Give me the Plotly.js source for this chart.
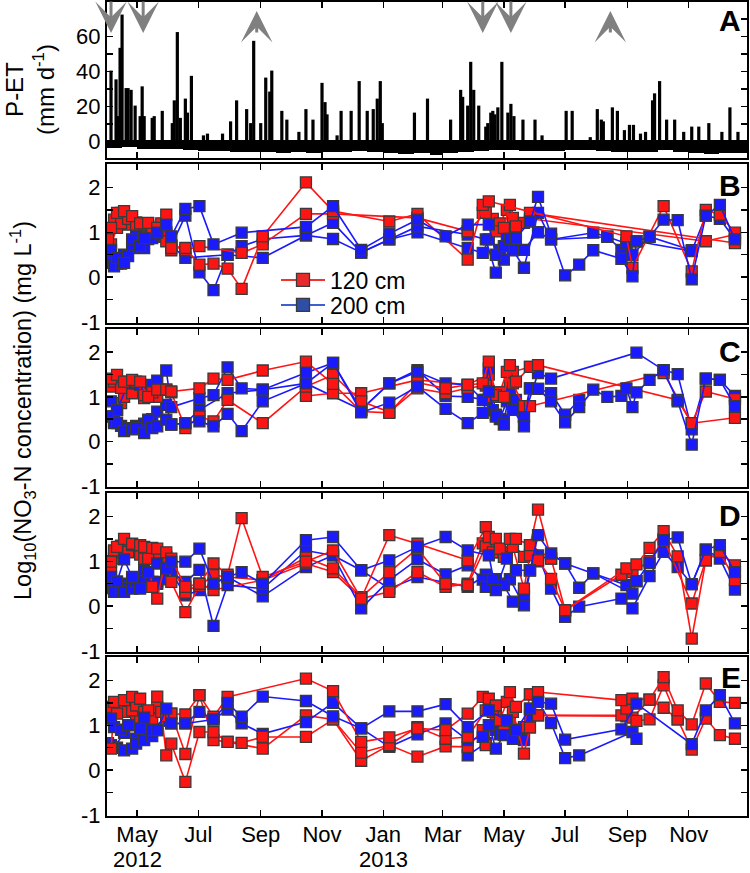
<!DOCTYPE html>
<html><head><meta charset="utf-8">
<script src="https://cdn.plot.ly/plotly-3.0.1.min.js"></script>
<style>html,body{margin:0;padding:0;background:#fff}</style>
</head><body><div id="chart" style="width:750px;height:873px"></div>
<script>
const _ = null;
// ---------- Panel A: P-ET ----------
const rainDates = ['2012-04-05','2012-04-10','2012-04-12','2012-04-14','2012-04-16','2012-04-20','2012-04-22','2012-04-25','2012-04-29','2012-05-04','2012-05-06','2012-05-08','2012-05-16','2012-05-18','2012-05-26','2012-06-05','2012-06-07','2012-06-10','2012-06-13','2012-06-18','2012-06-20','2012-06-24','2012-07-06','2012-07-10','2012-07-25','2012-08-02','2012-08-08','2012-08-18','2012-08-22','2012-08-25','2012-09-01','2012-09-06','2012-09-10','2012-09-12','2012-09-22','2012-09-27','2012-10-09','2012-10-16','2012-10-23','2012-11-01','2012-11-04','2012-11-06','2012-11-16','2012-11-20','2012-11-30','2012-12-08','2012-12-16','2012-12-22','2012-12-26','2012-12-29','2012-12-31','2013-02-01','2013-02-14','2013-03-09','2013-03-19','2013-03-21','2013-03-26','2013-03-29','2013-04-01','2013-04-06','2013-04-13','2013-04-15','2013-04-18','2013-04-20','2013-04-22','2013-04-25','2013-04-29','2013-05-05','2013-05-08','2013-05-11','2013-05-20','2013-06-01','2013-06-08','2013-07-02','2013-07-08','2013-07-26','2013-08-02','2013-08-06','2013-08-08','2013-08-17','2013-08-22','2013-08-29','2013-09-03','2013-09-07','2013-09-14','2013-09-19','2013-09-26','2013-09-28','2013-10-03','2013-10-10','2013-10-18','2013-10-27','2013-11-04','2013-11-11','2013-11-21','2013-12-04','2013-12-12','2013-12-20'];
const rainValues = [40,35,14,53,72,30,30,29,20,14,31,14,13,14,17,10,23,62,13,24,16,37,3,4,4,11,23,18,10,57,10,36,28,40,17,12,5,18,12,33,22,15,3,17,17,34,17,18,24,34,10,16,24,12,29,25,20,45,29,20,8,10,16,17,15,19,45,16,21,14,12,12,3,17,17,2,18,12,11,19,17,6,9,9,4,5,23,27,34,12,12,5,8,8,10,5,19,5];
// dry-day P-ET, half-month steps from Apr 2012 (1st half) to Dec 2013 (2nd half)
const dryPET = [-3.8,-3.0,-4.0,-4.0,-4.4,-4.8,-5.1,-5.1,-5.7,-5.7,-6.0,-6.3,-5.7,-6.7,-5.7,-5.7,-5.1,-5.7,
                -6.3,-7.0,-6.7,-7.6,-6.3,-5.7,-5.1,-4.8,-4.8,-5.1,-5.1,-5.1,-4.8,-4.8,-5.1,-5.7,-5.7,-5.7,-4.8,-5.7,-6.3,-7.0,-6.7,-6.3];
const arrowDates = ['2012-04-05','2012-05-07','2012-08-28','2013-04-10','2013-05-08','2013-08-15'];
const arrowDirs = ['down','down','up','down','down','up'];

// ---------- x ticks ----------
const monthTicks = ['2012-05-01','2012-07-01','2012-09-01','2012-11-01','2013-01-01','2013-03-01','2013-05-01','2013-07-01','2013-09-01','2013-11-01'];
const monthLabels = ['May','Jul','Sep','Nov','Jan','Mar','May','Jul','Sep','Nov'];
const yearLabels = ['2012','2013'];
const yearLabelDates = ['2012-05-01','2013-01-01'];
const seriesNames = ['120 cm','200 cm'];

// ---------- sampling dates ----------
const sampleDates = ['2012-04-02','2012-04-05','2012-04-08','2012-04-11','2012-04-15','2012-04-18','2012-04-22','2012-04-26','2012-04-30','2012-05-04','2012-05-08','2012-05-12','2012-05-16','2012-05-21','2012-05-25','2012-05-30','2012-06-04','2012-06-18','2012-07-02','2012-07-16','2012-07-30','2012-08-13','2012-09-03','2012-10-16','2012-11-12','2012-12-10','2013-01-07','2013-02-04','2013-03-04','2013-03-26','2013-04-10','2013-04-13','2013-04-16','2013-04-20','2013-04-23','2013-04-27','2013-05-01','2013-05-04','2013-05-07','2013-05-10','2013-05-13','2013-05-21','2013-05-27','2013-06-04','2013-06-17','2013-07-01','2013-07-15','2013-07-29','2013-08-12','2013-08-26','2013-08-31','2013-09-06','2013-09-10','2013-09-23','2013-10-07','2013-10-21','2013-11-04','2013-11-18','2013-12-02','2013-12-17'];

// ---------- Panel B ([sample index, log10 value]) ----------
const B_red1 = [[1,1.1],[3,1.43],[5,1.47],[7,1.36],[9,1.2],[11,1.21],[13,1.1],[15,1.39],[16,0.65],[17,0.65],[18,0.28],[19,0.3],[20,0.19],[21,-0.26],[22,0.91],[23,2.11],[24,1.47],[26,1.24],[27,1.41],[29,0.39],[30,1.61],[32,1.69],[50,0.91],[51,0.21],[54,1.58],[56,0.13],[57,1.5],[58,1.39],[59,0.99]];
const B_red2 = [[0,0.84],[2,1.28],[4,1.2],[6,1.3],[8,1.17],[10,1.17],[12,1.1],[14,1.2],[15,0.8],[17,0.6],[18,0.69],[21,0.54],[22,0.73],[23,1.41],[24,1.41],[27,1.32],[29,1.02],[31,1.43],[34,1.02],[36,1.1],[38,1.61],[40,1.13],[42,1.43],[59,0.76]];
const B_red3 = [[1,0.73],[3,1.1],[4,1.43],[6,1.17],[8,1.22],[9,1.1],[11,1.15],[12,1.05],[13,0.91],[15,1.0],[16,0.6],[17,_],[30,1.43],[33,1.3],[35,1.2],[37,1.5],[39,1.32],[41,1.21],[42,1.3],[57,0.8],[59,0.95]];
const B_blue1 = [[1,0.61],[3,0.43],[5,0.32],[7,0.84],[9,0.69],[10,0.87],[13,0.99],[15,1.17],[16,0.91],[17,1.52],[18,1.58],[19,0.73],[21,0.99],[23,1.12],[24,1.58],[25,0.61],[26,0.97],[27,1.28],[28,0.91],[29,1.17],[32,1.17],[34,0.5],[36,0.69],[38,0.85],[40,0.87],[42,1.24],[43,1.79],[44,0.97],[45,0.04],[46,0.28],[47,0.6],[49,0.41],[51,0.02],[52,0.8],[53,0.9],[54,1.28],[55,1.27],[56,-0.05],[57,1.37],[58,1.61],[59,0.84]];
const B_blue2 = [[0,0.32],[2,0.24],[4,0.3],[6,0.47],[8,0.91],[10,0.65],[12,0.87],[14,0.95],[16,0.7],[17,1.37],[18,0.11],[19,-0.29],[20,0.5],[21,0.69],[22,0.85],[23,0.93],[24,1.21],[25,0.55],[26,0.84],[27,1.13],[29,0.95],[31,0.84],[34,0.1],[36,0.39],[37,0.91],[39,0.61],[41,0.21],[43,1.43],[44,0.84],[48,0.9],[50,0.75],[52,0.8],[56,0.58],[57,1.37],[58,1.3],[59,0.84]];
const B_blue3 = [[1,0.4],[3,0.3],[5,0.5],[7,0.65],[9,0.8],[11,0.85],[13,0.9],[15,0.95],[16,0.7],[17,0.43],[20,0.5],[22,0.43],[23,0.93],[24,0.85],[25,0.55],[26,0.84],[27,1.0],[29,0.65],[30,0.54],[32,0.84],[35,0.61],[37,0.7],[39,0.6],[41,0.61],[43,1.0],[44,0.84],[47,0.99],[48,0.9],[49,0.61],[50,0.75],[51,0.5],[53,0.9],[56,0.6]];

// ---------- Panel C ----------
const C_red1 = [[1,1.41],[3,1.49],[5,1.34],[7,1.38],[9,1.34],[11,1.0],[13,1.16],[15,1.16],[16,1.12],[18,1.19],[19,1.41],[20,1.38],[22,1.59],[23,1.79],[24,1.29],[25,0.67],[26,0.64],[27,1.32],[28,1.19],[29,1.27],[30,1.3],[32,1.79],[34,1.04],[36,1.0],[38,1.71],[40,1.34],[42,1.67],[43,1.71],[55,0.93],[56,0.41],[59,0.53]];
const C_red2 = [[1,1.23],[2,1.34],[4,1.2],[6,1.34],[8,1.34],[10,1.04],[12,1.1],[14,1.16],[16,1.1],[17,0.3],[18,0.56],[19,0.45],[20,0.93],[22,0.41],[23,1.23],[24,1.49],[25,0.9],[26,0.66],[27,1.19],[28,1.08],[29,1.2],[31,1.25],[33,1.0],[35,1.1],[37,1.56],[39,1.3],[41,0.79],[42,0.79],[54,1.53],[56,0.41],[57,1.12],[59,0.95]];
const C_red3 = [[3,0.71],[4,0.86],[5,1.0],[7,1.08],[10,0.97],[13,1.0],[15,1.16],[16,_],[23,1.02],[24,1.08],[25,1.08],[27,1.38],[29,1.27],[32,1.5],[34,1.1],[38,1.34],[39,1.56],[42,1.67]];
const C_blue1 = [[0,0.56],[2,0.41],[3,0.41],[5,0.23],[7,0.27],[8,0.3],[10,0.19],[11,0.49],[12,0.3],[13,0.34],[15,0.49],[16,0.38],[17,0.41],[18,0.45],[19,0.34],[20,0.62],[21,0.23],[22,0.9],[23,1.3],[24,1.76],[25,0.65],[26,0.87],[27,1.23],[28,0.73],[29,0.41],[30,0.64],[32,1.12],[34,0.56],[36,0.38],[39,0.71],[41,0.34],[42,1.19],[43,1.18],[44,0.9],[45,0.43],[46,0.77],[47,1.16],[48,1.0],[49,1.02],[50,1.19],[51,0.77],[52,1.1],[53,1.38],[54,1.6],[55,0.9],[56,-0.07],[57,1.41],[58,1.38],[59,0.79]];
const C_blue2 = [[1,0.9],[3,0.7],[6,1.3],[8,1.3],[9,1.27],[12,1.27],[13,1.36],[15,1.59],[16,0.77],[18,0.97],[19,1.04],[20,1.66],[21,1.19],[22,1.16],[23,1.54],[24,1.76],[25,0.71],[26,1.3],[27,1.56],[28,1.3],[29,1.27],[30,0.93],[32,1.64],[34,0.6],[36,0.49],[38,1.08],[40,0.93],[41,0.56],[43,1.53],[44,1.41],[52,1.99],[54,1.6],[55,1.51],[56,0.27],[57,1.41],[58,1.38],[59,1.02]];
const C_blue3 = [[1,0.56],[2,0.45],[4,0.35],[6,0.3],[8,0.35],[10,0.4],[12,0.5],[13,0.67],[15,0.82],[16,0.38],[17,0.41],[18,0.71],[20,1.08],[22,1.16],[23,1.3],[25,0.71],[26,1.3],[27,1.6],[28,1.02],[29,1.0],[31,0.93],[33,0.7],[35,0.5],[37,0.9],[39,0.75],[41,0.56],[42,1.19],[43,1.18],[44,1.08],[45,0.6],[46,0.93]];

// ---------- Panel D ----------
const D_red1 = [[1,0.99],[2,1.24],[3,1.32],[5,1.5],[7,1.39],[9,1.36],[10,1.32],[12,1.3],[13,1.28],[15,1.2],[16,1.06],[17,0.43],[18,0.5],[19,0.95],[20,0.7],[21,1.96],[22,0.65],[23,0.99],[24,1.24],[25,0.17],[26,1.58],[27,1.39],[29,1.02],[31,1.76],[32,1.54],[34,1.5],[35,1.28],[38,1.5],[40,1.5],[42,1.36],[43,2.15],[44,1.06],[45,-0.09],[50,0.84],[52,0.93],[53,1.3],[54,1.67],[55,1.11],[56,-0.72],[57,1.02],[58,1.21],[59,0.91]];
const D_red2 = [[1,0.8],[2,1.06],[4,1.2],[5,1.21],[6,1.21],[7,1.36],[8,1.36],[10,1.06],[11,1.06],[12,0.43],[13,0.17],[15,1.1],[16,0.54],[17,-0.13],[18,0.45],[19,0.69],[20,0.65],[22,0.58],[23,1.08],[24,0.84],[25,0.2],[26,0.76],[27,1.28],[28,0.5],[29,0.47],[31,1.33],[33,1.2],[36,1.1],[39,1.32],[41,0.39],[42,1.13],[43,1.02],[44,0.61],[45,-0.09],[49,0.7],[51,0.76],[53,1.0],[54,1.5],[56,0.06],[57,1.02],[58,1.21],[59,0.58]];
const D_red3 = [[0,1.0],[2,1.2],[4,1.35],[6,1.3],[8,1.2],[9,1.15],[11,1.2],[13,1.17],[15,1.0],[16,0.9],[17,0.3],[18,0.5],[19,0.36],[22,0.58],[23,0.95],[24,0.76],[25,0.17],[26,0.32],[27,0.76],[28,0.43],[29,0.5],[30,1.4],[32,1.4],[34,1.2],[37,1.2],[39,1.4],[41,1.1],[42,1.36],[44,1.06]];
const D_blue1 = [[1,0.65],[3,0.55],[5,1.04],[7,0.65],[9,0.39],[10,0.8],[11,0.76],[13,0.95],[15,0.84],[16,0.99],[17,0.99],[18,1.28],[19,0.5],[20,0.65],[21,0.76],[22,0.5],[23,1.47],[24,1.54],[25,0.8],[26,1.02],[27,1.32],[28,1.54],[29,1.24],[32,1.13],[34,0.36],[37,1.06],[40,0.8],[42,0.8],[43,1.58],[44,1.17],[45,0.95],[46,0.41],[47,0.73],[51,0.28],[52,0.56],[53,0.96],[54,1.47],[55,1.53],[56,0.49],[57,1.26],[58,1.36],[59,0.76]];
const D_blue2 = [[0,0.5],[2,0.32],[4,0.4],[5,0.32],[7,0.39],[8,0.54],[10,0.6],[12,0.54],[13,0.54],[15,0.6],[16,0.76],[17,0.54],[18,0.81],[19,-0.44],[20,0.47],[22,0.39],[23,1.24],[24,1.13],[25,-0.05],[26,0.58],[27,1.04],[28,0.71],[29,0.91],[30,0.59],[31,0.43],[33,0.6],[36,0.47],[39,0.1],[41,0.24],[42,0.8],[43,1.13],[44,0.39],[45,-0.24],[46,-0.01],[49,0.17],[51,-0.05],[53,0.67],[54,1.21],[55,0.87],[56,0.49],[57,1.26],[58,1.06],[59,0.37]];
const D_blue3 = [[1,0.4],[3,0.35],[5,0.5],[7,0.6],[9,0.5],[11,0.55],[13,0.5],[15,0.7],[16,0.76],[17,0.24],[18,0.36],[20,0.65],[22,0.22],[23,0.87],[24,1.13],[25,0.8],[26,0.39],[27,0.65],[29,0.43],[31,0.7],[34,0.6],[36,0.5],[38,0.6],[41,0.02],[42,0.8],[43,1.0],[44,1.17],[45,0.95],[47,0.73],[50,0.47],[52,0.56]];

// ---------- Panel E ----------
const E_red1 = [[1,1.41],[2,1.52],[3,1.26],[5,1.56],[7,1.63],[9,1.59],[11,1.33],[13,1.64],[15,1.2],[16,1.26],[17,1.24],[18,1.67],[19,1.19],[20,1.63],[23,2.04],[24,1.76],[25,0.63],[26,0.73],[27,0.93],[28,0.89],[29,1.26],[30,1.63],[32,1.59],[34,1.44],[38,1.74],[40,1.41],[42,1.69],[43,1.74],[49,1.56],[51,1.59],[53,1.57],[54,2.07],[55,1.33],[56,1.02],[57,1.93],[58,1.52],[59,1.5]];
const E_red2 = [[1,0.48],[2,1.33],[4,1.3],[5,1.3],[7,1.33],[8,1.44],[10,1.3],[12,1.15],[14,1.3],[15,0.33],[16,0.59],[17,-0.26],[18,0.85],[19,0.85],[20,0.63],[21,0.61],[22,0.74],[23,0.74],[24,1.13],[25,0.39],[26,0.56],[27,0.96],[28,0.7],[29,0.74],[31,1.33],[33,1.3],[35,1.11],[37,1.52],[39,1.3],[41,0.37],[42,0.95],[43,1.22],[49,1.22],[50,1.37],[52,1.1],[53,1.13],[54,1.89],[55,1.13],[56,0.46],[57,1.15],[58,0.78],[59,0.7]];
const E_red3 = [[0,1.2],[2,1.4],[4,1.45],[6,1.3],[8,1.2],[9,1.11],[11,1.2],[13,1.4],[15,1.2],[16,1.26],[17,0.36],[18,1.67],[19,0.67],[20,0.63],[22,0.48],[23,1.22],[24,1.13],[25,0.21],[26,0.56],[27,0.3],[28,0.53],[29,0.52],[30,0.89],[31,0.56],[34,1.22],[36,1.0],[38,1.1],[41,0.96],[42,1.69],[43,1.22],[50,1.2],[51,1.17],[53,1.57],[54,1.39],[55,1.13]];
const E_blue1 = [[1,1.15],[2,0.96],[4,0.9],[6,1.0],[9,0.93],[10,1.17],[12,0.89],[13,0.89],[15,1.37],[16,1.04],[17,1.04],[18,1.3],[19,1.13],[20,1.5],[21,1.19],[22,1.64],[23,1.54],[24,1.2],[25,0.93],[26,1.31],[27,1.31],[28,1.47],[29,0.96],[32,1.33],[37,1.11],[40,0.89],[42,1.37],[43,1.52],[44,1.48],[45,0.68],[49,0.91],[52,1.48],[56,0.58],[57,1.33],[58,1.67],[59,1.04]];
const E_blue2 = [[1,0.56],[3,0.5],[5,0.44],[7,0.48],[8,0.59],[10,0.67],[11,0.9],[12,0.76],[13,0.89],[15,1.1],[16,1.04],[17,1.04],[19,1.13],[20,1.35],[21,1.04],[22,0.81],[23,1.07],[24,1.5],[25,0.93],[26,0.52],[27,0.8],[28,1.04],[29,0.67],[30,0.74],[32,1.0],[34,0.48],[36,0.78],[39,0.7],[41,0.67],[42,1.37],[43,1.52],[44,1.05],[45,0.27],[46,0.33],[51,0.85],[52,0.7]];
const E_blue3 = [[0,0.6],[2,0.5],[5,0.83],[8,0.7],[10,0.8],[12,0.9],[15,1.2],[16,_],[29,0.33],[31,0.6],[33,0.9],[35,0.8],[38,0.9],[41,0.7],[42,1.2]];

// ================= build =================
const RED = '#ff1414', BLUE = '#1a1aff', EDGE = '#3a3a3a';
const FONT = 'Liberation Sans, Arial, sans-serif';
const traces = [];

const etX = [], etW = [];
for (let k = 0; k < dryPET.length; k++) {
  const mi = 3 + Math.floor(k / 2);
  const yr = 2012 + Math.floor(mi / 12), mo = mi % 12;
  const s = (k % 2) ? Date.UTC(yr, mo, 16) : Date.UTC(yr, mo, 1);
  const e = (k % 2) ? Date.UTC(yr, mo + 1, 1) : Date.UTC(yr, mo, 16);
  etX.push(new Date((s + e) / 2).toISOString().slice(0, 19).replace('T', ' '));
  etW.push(e - s);
}
traces.push({type:'bar', x: etX, y: dryPET, width: etW, marker:{color:'#000', line:{width:0}}, xaxis:'x', yaxis:'y', showlegend:false, hoverinfo:'skip'});
traces.push({type:'bar', x: rainDates, y: rainValues, width: 86400000, marker:{color:'#000', line:{color:'#000', width:2.2}}, xaxis:'x', yaxis:'y', showlegend:false});

function addSeries(pairs, color, ax) {
  traces.push({
    type:'scatter', mode:'lines+markers',
    x: pairs.map(p => sampleDates[p[0]]), y: pairs.map(p => p[1]),
    line:{color: color, width:1.6}, connectgaps:false,
    marker:{symbol:'square', size:11, color: color, line:{color: EDGE, width:1.3}},
    xaxis:'x' + ax, yaxis:'y' + ax, showlegend:false
  });
}
const panels = [
  [2, [B_red1,B_red2,B_red3], [B_blue1,B_blue2,B_blue3]],
  [3, [C_red1,C_red2,C_red3], [C_blue1,C_blue2,C_blue3]],
  [4, [D_red1,D_red2,D_red3], [D_blue1,D_blue2,D_blue3]],
  [5, [E_red1,E_red2,E_red3], [E_blue1,E_blue2,E_blue3]]
];
panels.forEach(([ax, reds, blues]) => {
  addSeries(blues[2], BLUE, ax); addSeries(reds[2], RED, ax);
  addSeries(blues[1], BLUE, ax); addSeries(reds[1], RED, ax);
  addSeries(reds[0], RED, ax); addSeries(blues[0], BLUE, ax);
});
traces.push({type:'scatter', mode:'lines+markers', x:[null], y:[null], name: seriesNames[0], xaxis:'x2', yaxis:'y2', legend:'legend',
  line:{color:'#ee3333', width:2}, marker:{symbol:'square', size:13, color:'#e82a2a', line:{color:EDGE, width:1.3}}});
traces.push({type:'scatter', mode:'lines+markers', x:[null], y:[null], name: seriesNames[1], xaxis:'x2', yaxis:'y2', legend:'legend2',
  line:{color:'#3f5fcf', width:2}, marker:{symbol:'square', size:13, color:'#2f4ea6', line:{color:EDGE, width:1.3}}});

const xRange = ['2012-04-01', '2013-12-29'];
function xAxis(anchor, labels) {
  return {domain:[0,1], anchor: anchor, type:'date', range: xRange,
    tickmode:'array', tickvals: monthTicks, ticktext: monthLabels, showticklabels: labels,
    ticks:'inside', ticklen:6, tickwidth:1.5, tickcolor:'#000', mirror:'ticks', ticklabelstandoff:-2,
    showline:true, linewidth:2, linecolor:'#000', showgrid:false, zeroline:false,
    tickfont:{size:22, color:'#000', family: FONT}};
}
const logTicks = [-1,-0.5,0,0.5,1,1.5,2];
const logText = ['-1','','0','','1','','2'];
function yLog(dom, anchor) {
  return {domain: dom, anchor: anchor, range:[-1.02, 2.52], tickmode:'array', tickvals: logTicks, ticktext: logText,
    ticks:'inside', ticklen:6, tickwidth:1.5, tickcolor:'#000', mirror:'ticks',
    showline:true, linewidth:2, linecolor:'#000', showgrid:false, zeroline:false,
    tickfont:{size:22, color:'#000', family: FONT}};
}
const H = 814;
const pd = (y) => (816 - y) / H;
const px = (x) => (x - 107) / 640;

const annotations = [];
[['A',20],['B',186],['C',352],['D',515],['E',677]].forEach(([t, y]) => {
  annotations.push({xref:'paper', yref:'paper', x:0.993, y: pd(y), xanchor:'right', yanchor:'middle',
    text:'<b>' + t + '</b>', showarrow:false, font:{size:30, color:'#000', family: FONT}});
});
annotations.push({xref:'paper', yref:'paper', x: px(30), y: pd(90), textangle:-90, xanchor:'center', yanchor:'middle',
  text:'P-ET<br>(mm d<sup>-1</sup>)', showarrow:false, font:{size:24, color:'#000', family: FONT}});
annotations.push({xref:'paper', yref:'paper', x: px(22), y: pd(411), textangle:-90, xanchor:'center', yanchor:'middle',
  text:'Log<sub>10</sub>(NO<sub>3</sub>-N concentration) (mg L<sup>-1</sup>)', showarrow:false, font:{size:23.5, color:'#000', family: FONT}});
yearLabelDates.forEach((d, i) => {
  annotations.push({xref:'x5', yref:'paper', x: d, y: pd(859), xanchor:'center', yanchor:'middle',
    text: yearLabels[i], showarrow:false, font:{size:22, color:'#000', family: FONT}});
});
arrowDates.forEach((d, i) => {
  const down = arrowDirs[i] === 'down';
  annotations.push({xref:'x', yref:'paper', x: d, y: down ? pd(33) : pd(11), ax:0, ay: down ? -34 : 23,
    showarrow:true, arrowhead:3, arrowsize:1.75, arrowwidth:3, arrowcolor:'#808080', text:''});
});

const legendBase = {xanchor:'left', yanchor:'middle', bgcolor:'rgba(0,0,0,0)', borderwidth:0,
  font:{size:23, color:'#000', family: FONT}, itemwidth:44};
const layout = {
  width:750, height:873, margin:{l:107, r:3, t:2, b:57},
  paper_bgcolor:'#fff', plot_bgcolor:'#fff', font:{family: FONT, color:'#000'},
  barmode:'overlay', bargap:0,
  xaxis:  xAxis('y', false),
  xaxis2: xAxis('y2', false),
  xaxis3: xAxis('y3', false),
  xaxis4: xAxis('y4', false),
  xaxis5: xAxis('y5', true),
  yaxis: {domain:[pd(158), 1], anchor:'x', range:[-9.3, 79.8], tickmode:'array',
    tickvals:[0,10,20,30,40,50,60,70], ticktext:['0','','20','','40','','60',''],
    ticks:'inside', ticklen:6, tickwidth:1.5, tickcolor:'#000', mirror:'ticks',
    showline:true, linewidth:2, linecolor:'#000', showgrid:false,
    zeroline:true, zerolinecolor:'#000', zerolinewidth:3,
    tickfont:{size:22, color:'#000', family: FONT}},
  yaxis2: yLog([pd(323), pd(164)], 'x2'),
  yaxis3: yLog([pd(487), pd(329)], 'x3'),
  yaxis4: yLog([pd(652), pd(493)], 'x4'),
  yaxis5: yLog([0, pd(657)], 'x5'),
  showlegend:true,
  legend: Object.assign({}, legendBase, {x: px(276), y: pd(280)}),
  legend2: Object.assign({}, legendBase, {x: px(276), y: pd(305)}),
  annotations: annotations
};
Plotly.newPlot('chart', traces, layout, {displayModeBar:false, staticPlot:true});
</script></body></html>
